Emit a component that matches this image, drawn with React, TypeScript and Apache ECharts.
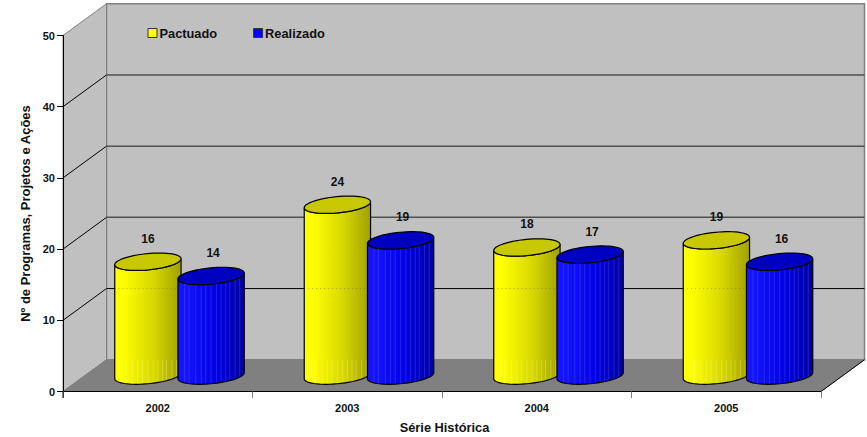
import React, { useEffect, useRef } from "react";
import * as echarts from "echarts";

const categories = ["2002", "2003", "2004", "2005"];
const pactuado = [16, 24, 18, 19];
const realizado = [14, 19, 17, 16];
const yTicks = [0, 10, 20, 30, 40, 50];

const FONT = '"Liberation Sans", Arial, sans-serif';
const DX = 43.5;
const DY = 31.75;
const A = 33.3;
const B = 8.1;
const PHI = (5.5 * Math.PI) / 180;
const T0 = Math.atan((B * Math.tan(PHI)) / A);
const SPACING = 31.6;

const pt = (cx: number, cy: number, t: number): number[] => [
  cx + A * Math.cos(t) * Math.cos(PHI) + B * Math.sin(t) * Math.sin(PHI),
  cy - A * Math.cos(t) * Math.sin(PHI) + B * Math.sin(t) * Math.cos(PHI),
];

const arc = (cx: number, cy: number, from: number, to: number, n: number) => {
  const out: number[][] = [];
  for (let i = 0; i <= n; i++) out.push(pt(cx, cy, from + ((to - from) * i) / n));
  return out;
};

// y on the lower arc of an ellipse for a horizontal fraction of the width
const lowerY = (cy: number, cx: number, x: number) => {
  let best = cy;
  let d = 1e9;
  for (let i = 0; i <= 90; i++) {
    const p = pt(cx, cy, T0 + (Math.PI * i) / 90);
    const e = Math.abs(p[0] - x);
    if (e < d) {
      d = e;
      best = p[1];
    }
  }
  return best;
};

const stripFractions = [0.1, 0.17, 0.27, 0.35, 0.42, 0.5, 0.58, 0.65, 0.72, 0.78, 0.86, 0.93];

function cylinderRenderer(side: number, stops: string[], topColor: string, stripColor: string, isBlue: boolean) {
  return (params: any, api: any) => {
    const i = api.value(0);
    const v = api.value(1);
    const cx = api.coord([i, 0])[0] + DX / 2 + side * SPACING;
    const y0 = api.coord([i, 0])[1] - DY / 2;
    const yTop = api.coord([i, v])[1] - DY / 2;
    const lowerBottom = arc(cx, y0, T0, T0 + Math.PI, 40);
    const lowerTop = arc(cx, yTop, T0 + Math.PI, T0, 40);
    const body = [...lowerBottom, ...lowerTop];
    const children: any[] = [
      {
        type: "polygon",
        shape: { points: body },
        style: {
          fill: new echarts.graphic.LinearGradient(0, 0, 1, 0, [
            { offset: 0, color: stops[0] },
            { offset: 0.12, color: stops[0] },
            { offset: 0.6, color: stops[1] },
            { offset: 1, color: stops[2] },
          ]),
          stroke: "none",
        },
      },
    ];
    const backY0 = api.coord([0, 0])[1] - DY;
    stripFractions.forEach((f) => {
      const x = cx - A + 2 * A * f;
      children.push({
        type: "line",
        shape: {
          x1: x,
          y1: isBlue ? lowerY(yTop, cx, x) : Math.max(backY0, lowerY(yTop, cx, x)),
          x2: x,
          y2: lowerY(y0, cx, x),
        },
        style: { stroke: stripColor, lineWidth: 1 },
      });
    });
    if (!isBlue) {
      const gy = api.coord([0, 10])[1] - DY;
      if (yTop < gy) {
        children.push({
          type: "line",
          shape: { x1: cx - A, y1: gy, x2: cx + A, y2: gy },
          style: { stroke: "rgba(90,90,0,0.45)", lineWidth: 1, lineDash: [1, 3] },
        });
      }
    }
    children.push({
      type: "polygon",
      shape: { points: body },
      style: { fill: "none", stroke: "#000", lineWidth: 1.2 },
    });
    children.push({
      type: "polygon",
      shape: { points: arc(cx, yTop, 0, Math.PI * 2, 60) },
      style: { fill: topColor, stroke: "#000", lineWidth: 1.2 },
    });
    children.push({
      type: "text",
      style: {
        text: String(v),
        x: cx + (isBlue ? 2 : 0),
        y: yTop - 23,
        textAlign: "center",
        textVerticalAlign: "middle",
        verticalAlign: "middle",
        font: `bold 12px ${FONT}`,
        fill: "#111",
      },
    });
    return { type: "group", children };
  };
}

function wallRenderer(params: any, api: any) {
  const cs = params.coordSys;
  const v = api.value(1);
  const y = api.coord([0, v])[1];
  const left = cs.x;
  const right = cs.x + cs.width;
  const children: any[] = [];
  if (v === yTicks[0]) {
    const yTopTick = api.coord([0, yTicks[yTicks.length - 1]])[1];
    children.push({
      type: "polygon",
      shape: {
        points: [
          [left + DX, yTopTick - DY],
          [right + DX, yTopTick - DY],
          [right + DX, y - DY],
          [left + DX, y - DY],
        ],
      },
      style: { fill: "#c0c0c0", stroke: "#808080", lineWidth: 1.5 },
    });
    children.push({
      type: "polygon",
      shape: {
        points: [
          [left, y],
          [left + DX, y - DY],
          [left + DX, yTopTick - DY],
          [left, yTopTick],
        ],
      },
      style: { fill: "#c0c0c0", stroke: "#808080", lineWidth: 1 },
    });
    children.push({
      type: "polygon",
      shape: {
        points: [
          [left, y],
          [right, y],
          [right + DX, y - DY],
          [left + DX, y - DY],
        ],
      },
      style: { fill: "#808080", stroke: "#808080", lineWidth: 1 },
    });
    children.push({
      type: "line",
      shape: { x1: right, y1: y, x2: right + DX, y2: y - DY },
      style: { stroke: "#000", lineWidth: 1 },
    });
  } else if (v !== yTicks[yTicks.length - 1]) {
    children.push({
      type: "line",
      shape: { x1: left, y1: y, x2: left + DX, y2: y - DY },
      style: { stroke: "#000", lineWidth: 1 },
    });
    children.push({
      type: "line",
      shape: { x1: left + DX, y1: y - DY, x2: right + DX, y2: y - DY },
      style: v === yTicks[1] ? { stroke: "#000", lineWidth: 1 } : { stroke: "#505050", lineWidth: 1.5 },
    });
  }
  return { type: "group", children };
}

function edgeRenderer(params: any, api: any) {
  const p = api.coord([0, 0]);
  const x = params.coordSys.x;
  return {
    type: "line",
    shape: { x1: x, y1: p[1], x2: x, y2: p[1] + 6.5 },
    style: { stroke: "#000", lineWidth: 1 },
  };
}

export default function App() {
  const ref = useRef<HTMLDivElement>(null);
  useEffect(() => {
    const chart = echarts.init(ref.current!, null, { renderer: "svg" });
    chart.setOption({
      animation: false,
      backgroundColor: "#ffffff",
      grid: { left: 63, top: 35.5, width: 758, height: 356, containLabel: false, outerBoundsMode: "none" },
      legend: {
        data: ["Pactuado", "Realizado"],
        left: 147.5,
        top: 26.5,
        icon: "rect",
        itemWidth: 9,
        itemHeight: 9,
        itemGap: 36,
        padding: 0,
        textStyle: { fontFamily: FONT, fontWeight: "bold", fontSize: 12.8, color: "#111", padding: [0, 0, 0, -2.5] },
        itemStyle: { borderColor: "#333", borderWidth: 1 },
        selectedMode: false,
      },
      xAxis: {
        type: "category",
        data: categories,
        boundaryGap: true,
        name: "Série Histórica",
        nameLocation: "middle",
        nameGap: 29,
        nameTextStyle: { fontFamily: FONT, fontWeight: "bold", fontSize: 12.8, color: "#111", padding: [0, 0, 0, 5] },
        axisLine: { lineStyle: { color: "#000", width: 1 } },
        axisTick: { show: true, alignWithLabel: false, length: 6.5, lineStyle: { color: "#808080" } },
        axisLabel: { interval: 0, margin: 11, fontFamily: FONT, fontWeight: "bold", fontSize: 11, color: "#111" },
        splitLine: { show: false },
      },
      yAxis: {
        type: "value",
        min: 0,
        max: 50,
        interval: 10,
        name: "Nº de Programas, Projetos e Ações",
        nameLocation: "middle",
        nameGap: 27,
        nameTextStyle: { fontFamily: FONT, fontWeight: "bold", fontSize: 13, color: "#111" },
        axisLine: { show: true, lineStyle: { color: "#000", width: 1 } },
        axisTick: { show: true, length: 6, lineStyle: { color: "#000" } },
        axisLabel: { margin: 8, fontFamily: FONT, fontWeight: "bold", fontSize: 11, color: "#111" },
        splitLine: { show: false },
      },
      series: [
        {
          type: "custom",
          name: "walls",
          z: -1,
          silent: true,
          clip: false,
          data: yTicks.map((v) => [0, v]),
          encode: { x: 0, y: 1 },
          renderItem: wallRenderer,
        },
        {
          type: "custom",
          name: "Pactuado",
          z: 2,
          clip: false,
          itemStyle: { color: "#ffff00" },
          data: pactuado.map((v, i) => [i, v]),
          encode: { x: 0, y: 1 },
          renderItem: cylinderRenderer(-1, ["#ffff00", "#d6d600", "#a0a000"], "#c8c800", "rgba(255,255,160,0.28)", false),
        },
        {
          type: "custom",
          name: "Realizado",
          z: 3,
          clip: false,
          itemStyle: { color: "#0000ff" },
          data: realizado.map((v, i) => [i, v]),
          encode: { x: 0, y: 1 },
          renderItem: cylinderRenderer(1, ["#1414ff", "#0000e0", "#0000a0"], "#0000c0", "rgba(110,110,255,0.3)", true),
        },
        {
          type: "custom",
          name: "edge",
          z: 4,
          silent: true,
          clip: false,
          data: [[0, 0]],
          encode: { x: 0, y: 1 },
          renderItem: edgeRenderer,
        },
      ],
    });
    return () => chart.dispose();
  }, []);
  return <div ref={ref} style={{ width: 867, height: 437, position: "absolute", left: 0, top: 0 }} />;
}
